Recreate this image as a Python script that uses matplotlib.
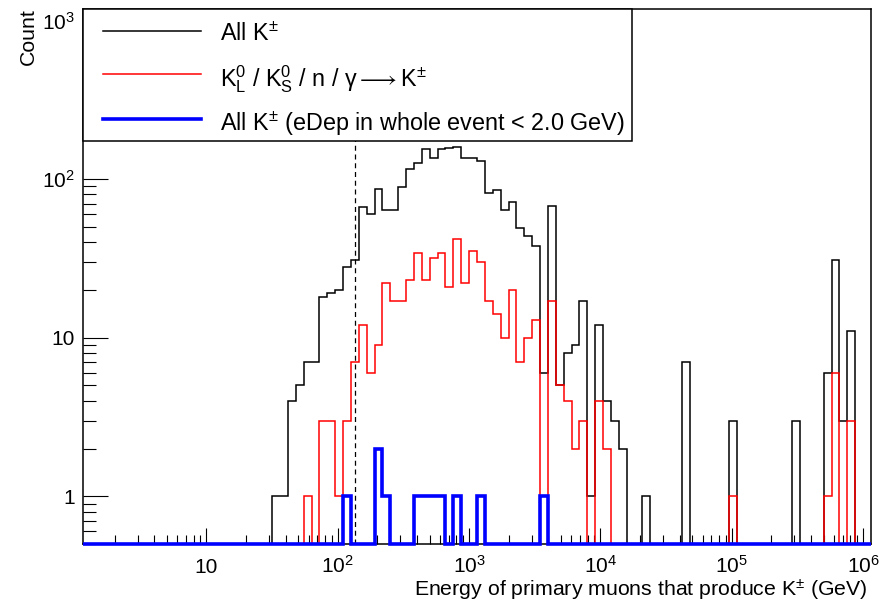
import numpy as np
import matplotlib
matplotlib.use("Agg")
import matplotlib.pyplot as plt
from matplotlib.ticker import FixedLocator, NullFormatter, FuncFormatter
from matplotlib.patches import Rectangle
from matplotlib.lines import Line2D

plt.rcParams['font.family'] = ['Liberation Sans', 'DejaVu Sans']
plt.rcParams['mathtext.fontset'] = 'custom'
plt.rcParams['mathtext.rm'] = 'Liberation Sans'
plt.rcParams['mathtext.it'] = 'Liberation Sans:italic'
plt.rcParams['mathtext.bf'] = 'Liberation Sans:bold'

# 100 log-spaced bins in muon energy (GeV)
log_lo, log_hi, n_bins = 0.06, 6.06, 100
edges = np.logspace(log_lo, log_hi, n_bins + 1)

# counts per bin
all_k = [
    0, 0, 0, 0, 0, 0, 0, 0, 0, 0,
    0, 0, 0, 0, 0, 0, 0, 0, 0, 0,
    0, 0, 0, 0, 1, 1, 4, 5, 7, 7,
    18, 19, 20, 28, 31, 67, 60, 87, 64, 64,
    89, 115, 127, 155, 135, 155, 156, 160, 135, 135,
    129, 82, 85, 64, 72, 49, 44, 38, 6, 68,
    5, 8, 9, 17, 1, 12, 4, 3, 2, 0,
    0, 1, 0, 0, 0, 0, 7, 0, 0, 0,
    0, 0, 3, 0, 0, 0, 0, 0, 0, 0,
    3, 0, 0, 0, 6, 31, 3, 11, 0, 0,
]
neutral_k = [
    0, 0, 0, 0, 0, 0, 0, 0, 0, 0,
    0, 0, 0, 0, 0, 0, 0, 0, 0, 0,
    0, 0, 0, 0, 0, 0, 0, 0, 1, 0,
    3, 3, 1, 3, 7, 12, 6, 9, 22, 17,
    17, 23, 34, 23, 32, 34, 21, 42, 22, 35,
    30, 17, 14, 10, 20, 7, 10, 13, 1, 17,
    5, 4, 2, 3, 0, 4, 2, 0, 0, 0,
    0, 0, 0, 0, 0, 0, 0, 0, 0, 0,
    0, 0, 1, 0, 0, 0, 0, 0, 0, 0,
    0, 0, 0, 0, 1, 6, 0, 3, 0, 0,
]
low_edep_k = [
    0, 0, 0, 0, 0, 0, 0, 0, 0, 0,
    0, 0, 0, 0, 0, 0, 0, 0, 0, 0,
    0, 0, 0, 0, 0, 0, 0, 0, 0, 0,
    0, 0, 0, 1, 0, 0, 0, 2, 1, 0,
    0, 0, 1, 1, 1, 1, 0, 1, 0, 0,
    1, 0, 0, 0, 0, 0, 0, 0, 1, 0,
    0, 0, 0, 0, 0, 0, 0, 0, 0, 0,
    0, 0, 0, 0, 0, 0, 0, 0, 0, 0,
    0, 0, 0, 0, 0, 0, 0, 0, 0, 0,
    0, 0, 0, 0, 0, 0, 0, 0, 0, 0,
]
e_cut = 136  # GeV

labels = [
    r'All K$^{\pm}$',
    r'K$^0_\mathrm{L}$ / K$^0_\mathrm{S}$ / n / γ$\longrightarrow$K$^{\pm}$',
    r'All K$^{\pm}$ (eDep in whole event < 2.0 GeV)',
]
colors = ['black', '#ff0000', '#0000ff']
widths = [1.1, 1.1, 2.6]

ymin, ymax = 0.5, 1180

fig = plt.figure(figsize=(8.85, 6.04), dpi=100)
ax = fig.add_axes([83 / 885, 1 - 544 / 604, 788 / 885, 535 / 604])
ax.set_xscale('log')
ax.set_yscale('log')
ax.set_xlim(edges[0], edges[-1])
ax.set_ylim(ymin, ymax)

# empty bins sit on the bottom of the frame, like ROOT does
for z, (vals, c, lw) in enumerate(zip([all_k, neutral_k, low_edep_k], colors, widths)):
    v = np.clip(np.asarray(vals, dtype=float), ymin, None)
    ax.stairs(v, edges, baseline=None, color=c, lw=lw, zorder=3 + z, clip_on=False)

ax.axvline(e_cut, color='black', lw=0.9, ls=(0, (4, 3)), zorder=2)

# axes styling
for s in ax.spines.values():
    s.set_linewidth(1.1)
ax.xaxis.set_major_locator(FixedLocator([10.0 ** k for k in range(1, 7)]))
ax.xaxis.set_minor_locator(FixedLocator(
    [m * 10.0 ** k for k in range(0, 6) for m in range(2, 10)]))
ax.yaxis.set_major_locator(FixedLocator([1, 10, 100, 1000]))
ax.yaxis.set_minor_locator(FixedLocator(
    [m * 10.0 ** k for k in range(-1, 3) for m in range(2, 10)]))
ax.xaxis.set_minor_formatter(NullFormatter())
ax.yaxis.set_minor_formatter(NullFormatter())


def pow_fmt(x, pos):
    k = int(round(np.log10(x)))
    if k == 0:
        return '1'
    if k == 1:
        return '10'
    return r'$10^{%d}$' % k


ax.xaxis.set_major_formatter(FuncFormatter(pow_fmt))
ax.yaxis.set_major_formatter(FuncFormatter(pow_fmt))
ax.tick_params(which='both', direction='in', top=False, right=False,
               width=0.8, color='black', labelsize=15)
ax.tick_params(axis='x', which='major', length=11.5, pad=21)
ax.tick_params(axis='x', which='minor', length=6.5)
ax.tick_params(axis='y', which='major', length=18, pad=6)
ax.tick_params(axis='y', which='minor', length=9.4)
for t in ax.xaxis.get_major_ticks():
    t.label1.set_va('baseline')

fig.text(868 / 885, 1 - 590 / 604,
         r'Energy of primary muons that produce K$^{\pm}$ (GeV)',
         ha='right', va='center', fontsize=15.3)
fig.text(28.5 / 885, 1 - 8 / 604, 'Count', rotation=90,
         ha='center', va='top', fontsize=15.3)

# legend box in the top-left corner
lx1 = (632 - 83) / 788
ly0 = (544 - 141) / 535
ax.add_patch(Rectangle((0, ly0), lx1, 1 - ly0, transform=ax.transAxes,
                       facecolor='white', edgecolor='black', lw=1.1,
                       zorder=10, clip_on=False))
rows = [(544 - 32) / 535, (544 - 75) / 535, (544 - 120) / 535]
for yr, lab, c, lw in zip(rows, labels, colors, widths):
    ax.add_line(Line2D([20 / 788, 118 / 788], [yr + 1 / 535] * 2, color=c,
                       lw=lw, transform=ax.transAxes, zorder=11, clip_on=False))
    ax.text(137 / 788, yr, lab, transform=ax.transAxes, ha='left',
            va='center_baseline', fontsize=16.8, zorder=12)

fig.savefig('out.png', dpi=100)
